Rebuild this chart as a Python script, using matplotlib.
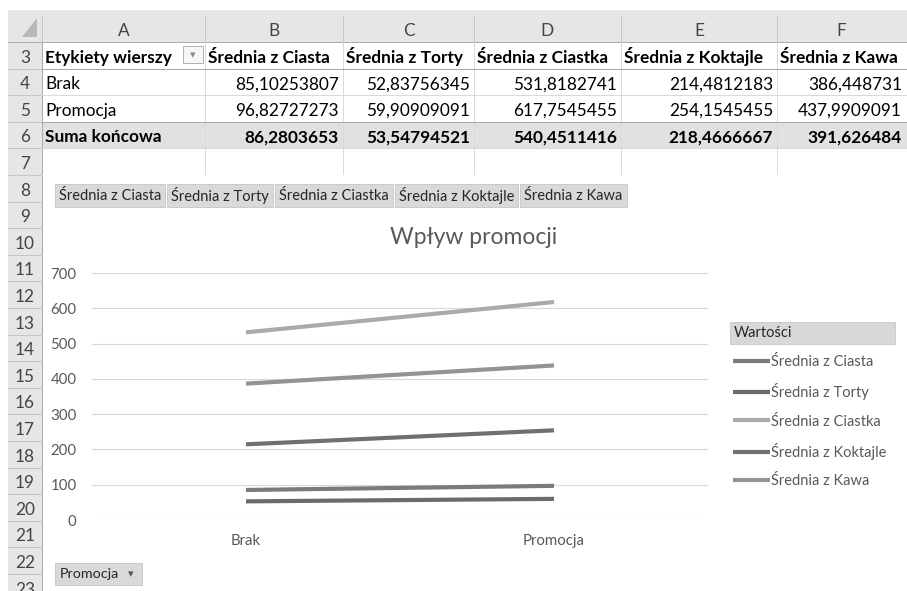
import matplotlib
matplotlib.use('Agg')
import matplotlib.pyplot as plt
from matplotlib.patches import Rectangle, Polygon
from matplotlib.lines import Line2D

# ---------------- data ----------------
categories = ['Brak', 'Promocja']
series_names = ['Średnia z Ciasta', 'Średnia z Torty', 'Średnia z Ciastka',
                'Średnia z Koktajle', 'Średnia z Kawa']
ciasta = [85.10253807, 96.82727273]
torty = [52.83756345, 59.90909091]
ciastka = [531.8182741, 617.7545455]
koktajle = [214.4812183, 254.1545455]
kawa = [386.448731, 437.9909091]
total_label = 'Suma końcowa'
totals = [86.2803653, 53.54794521, 540.4511416, 218.4666667, 391.626484]
col_letters = ['A', 'B', 'C', 'D', 'E', 'F']
row_numbers = list(range(3, 24))
y_ticks = [0, 100, 200, 300, 400, 500, 600, 700]
chart_title = 'Wpływ promocji'
legend_title = 'Wartości'
row_field = 'Etykiety wierszy'
filter_field = 'Promocja'
series_colors = ['#7b7b7b', '#6b6b6b', '#aaaaaa', '#707070', '#939393']

series_values = [ciasta, torty, ciastka, koktajle, kawa]

# ---------------- layout ----------------
W, H = 907, 591
FONT = ['Lato', 'DejaVu Sans']
plt.rcParams['font.family'] = FONT

fig = plt.figure(figsize=(W / 100, H / 100), dpi=100)
fig.patch.set_facecolor('white')


def rect(x0, y0, x1, y1, fc, ec='none', lw=0.0, z=1):
    fig.add_artist(Rectangle((x0 / W, 1 - y1 / H), (x1 - x0) / W, (y1 - y0) / H,
                             transform=fig.transFigure, fc=fc, ec=ec, lw=lw, zorder=z))


def line(x0, y0, x1, y1, color, lw=1.0, z=2):
    fig.add_artist(Line2D([x0 / W, x1 / W], [1 - y0 / H, 1 - y1 / H],
                          transform=fig.transFigure, color=color, lw=lw * 0.72, zorder=z))


def text(x, y, s, **kw):
    return fig.text(x / W, 1 - y / H, s, **kw)


col_edges = [42, 205, 343, 474, 621, 777, 906]
ROW_TOP3 = 42
ROW_H = 26.6


def row_top(r):
    return ROW_TOP3 + (r - 3) * ROW_H


CELL_FS = 12.4
HDR_COLOR = '#444444'

# header backgrounds
rect(8, 10, W, 42, '#e6e6e6')
rect(8, 42, 42, H, '#e6e6e6')
# corner triangle
fig.add_artist(Polygon([(37 / W, 1 - 37 / H), (37 / W, 1 - 18 / H), (22 / W, 1 - 37 / H)],
                       closed=True, transform=fig.transFigure, fc='#b9b9b9', ec='none', zorder=2))
# column header separators and letters
for i, e in enumerate(col_edges[:-1]):
    line(e, 16, e, 42, '#c6c6c6')
for i, letter in enumerate(col_letters):
    cx = (col_edges[i] + col_edges[i + 1]) / 2
    text(cx, 31, letter, ha='center', va='center', fontsize=CELL_FS, color=HDR_COLOR)
line(8, 42, W, 42, '#ababab')
line(42, 42, 42, H, '#ababab')

# row numbers
for r in row_numbers:
    t = row_top(r)
    line(8, t + ROW_H, 42, t + ROW_H, '#c6c6c6')
    text(25, t + ROW_H - 6, str(r), ha='center', va='baseline', fontsize=CELL_FS, color=HDR_COLOR)

# pivot table cells (rows 3-7)
rect(42, row_top(6), W, row_top(7), '#e1e1e1')
for r in range(3, 8):
    line(42, row_top(r + 1), W, row_top(r + 1), '#dadada')
for e in col_edges[1:-1]:
    line(e, 42, e, row_top(8), '#dadada')
line(42, row_top(4), W, row_top(4), '#a8a8a8')
line(42, row_top(6), W, row_top(6), '#a8a8a8')


def fmt(v):
    return repr(v).replace('.', ',')


base3 = row_top(4) - 6
text(45, base3, row_field, ha='left', va='baseline', fontsize=CELL_FS, fontweight='bold', color='black')
rect(183, 46.5, 203, 63, '#f7f7f7', ec='#b0b0b0', lw=0.7, z=3)
text(193, 55, '▾', ha='center', va='center', fontsize=8, color='#8a8a8a', zorder=4)
for i, name in enumerate(series_names):
    text(col_edges[i + 1] + 3, base3, name, ha='left', va='baseline', fontsize=CELL_FS,
         fontweight='bold', color='black')

rows = [(categories[0], [v[0] for v in series_values], 'normal'),
        (categories[1], [v[1] for v in series_values], 'normal'),
        (total_label, totals, 'bold')]
for k, (lab, vals, wt) in enumerate(rows):
    base = row_top(5 + k) - 6
    text(45, base, lab, ha='left', va='baseline', fontsize=CELL_FS, fontweight=wt, color='black')
    for i, v in enumerate(vals):
        right = col_edges[i + 2] - 4
        text(right, base, fmt(v), ha='right', va='baseline', fontsize=CELL_FS, fontweight=wt,
             color='black')

# ---------------- chart ----------------
rect(43, row_top(8), W, H, 'white', z=3)

fig.canvas.draw()
renderer = fig.canvas.get_renderer()

# field buttons
BTN_FS = 10.5
bx = 55
for name in series_names:
    t = text(bx + 4, 195.5, name, ha='left', va='center', fontsize=BTN_FS, color='#262626', zorder=6)
    w = t.get_window_extent(renderer).width
    rect(bx, 184, bx + w + 8, 207, '#d9d9d9', ec='#c4c4c4', lw=0.6, z=5)
    bx += w + 8 + 2

text(474, 238, chart_title, ha='center', va='center', fontsize=16.5, fontweight='normal',
     color='#595959', zorder=6)

ax = fig.add_axes([92 / W, 1 - 520 / H, 616 / W, 247 / H])
ax.set_zorder(5)
ax.patch.set_alpha(0)
lines = []
for name, vals, c in zip(series_names, series_values, series_colors):
    ln, = ax.plot(range(len(categories)), vals, color=c, lw=3.0, solid_capstyle='butt',
                  label=name, zorder=3)
    lines.append(ln)
ax.set_xlim(-0.5, len(categories) - 0.5)
ax.set_ylim(y_ticks[0], y_ticks[-1])
ax.set_yticks(y_ticks)
ax.set_xticks(range(len(categories)))
ax.set_xticklabels(categories)
ax.yaxis.grid(True, color='#d9d9d9', lw=0.8)
ax.set_axisbelow(True)
for s in ax.spines.values():
    s.set_visible(False)
ax.tick_params(axis='y', length=0, pad=11, labelsize=10.8, labelcolor='#595959')
ax.tick_params(axis='x', length=0, pad=10, labelsize=10.8, labelcolor='#595959')

leg = ax.legend(handles=lines, loc='upper left', bbox_to_anchor=(733 / W, 1 - 355 / H),
                bbox_transform=fig.transFigure, frameon=False, borderpad=0, borderaxespad=0,
                handlelength=2.55, handletextpad=0.05, labelspacing=0.98, fontsize=10.5,
                labelcolor='#595959')

rect(730, 322, 895, 344, '#d8d8d8', ec='#c8c8c8', lw=0.6, z=5)
text(734, 333, legend_title, ha='left', va='center', fontsize=10.5, color='#262626', zorder=6)

# filter button
rect(55, 563, 142, 585, '#d9d9d9', ec='#c4c4c4', lw=0.6, z=5)
text(60, 574, filter_field, ha='left', va='center', fontsize=10.3, color='#262626', zorder=6)
text(131, 574, '▾', ha='center', va='center', fontsize=8, color='#555555', zorder=6)

fig.savefig('out.png', dpi=100)
